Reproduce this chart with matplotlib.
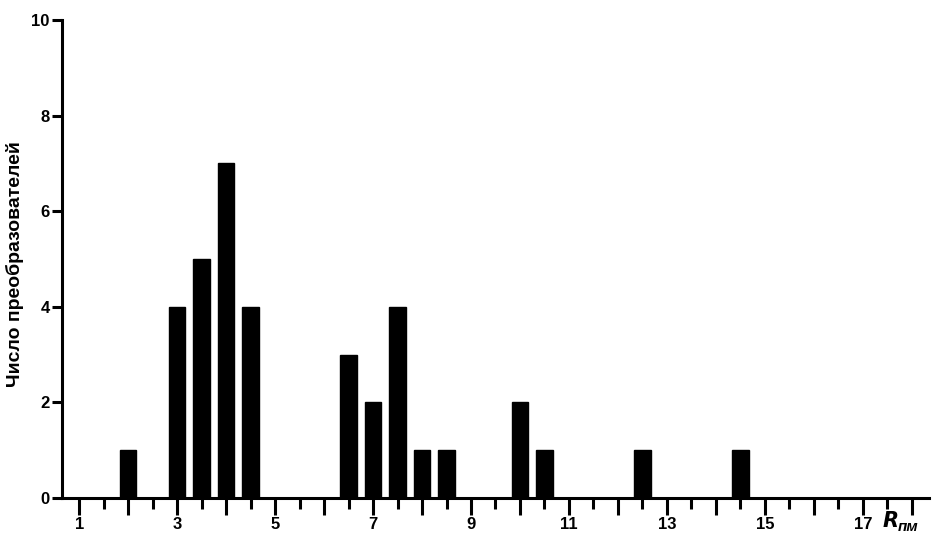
import numpy as np
import matplotlib
matplotlib.use("Agg")
import matplotlib.pyplot as plt
from matplotlib.ticker import MultipleLocator, FuncFormatter

# bar positions (R values) and counts
r_values = [2, 3, 3.5, 4, 4.5, 6.5, 7, 7.5, 8, 8.5, 10, 10.5, 12.5, 14.5]
counts = [1, 4, 5, 7, 4, 3, 2, 4, 1, 1, 2, 1, 1, 1]
y_ticks = [0, 2, 4, 6, 8, 10]

plt.rcParams['font.family'] = ['Liberation Sans', 'DejaVu Sans']
plt.rcParams['font.weight'] = 'bold'

fig = plt.figure(figsize=(9.35, 5.35), dpi=100)
ax = fig.add_axes([62/935, 37/535, (929-62)/935, (498-20)/535])

ax.bar(r_values, counts, width=0.34, color='black', edgecolor='black')

ax.set_xlim(0.65, 18.35)
ax.set_ylim(0, 10)
ax.set_yticks(y_ticks)

ax.xaxis.set_major_locator(MultipleLocator(1))
ax.xaxis.set_minor_locator(MultipleLocator(0.5))
ax.xaxis.set_major_formatter(FuncFormatter(lambda v, p: str(int(v)) if int(v) % 2 == 1 and v < 18 else ''))

for s in ['top', 'right']:
    ax.spines[s].set_visible(False)
for s in ['left', 'bottom']:
    ax.spines[s].set_linewidth(2.2)

ax.tick_params(axis='x', which='major', length=12, width=2.2, labelsize=12, pad=2)
ax.tick_params(axis='x', which='minor', length=8, width=2.2)
ax.tick_params(axis='y', which='major', length=7, width=2.2, labelsize=12, pad=2)
for lbl in ax.get_xticklabels() + ax.get_yticklabels():
    lbl.set_fontweight('bold')

fig.text(15/935, 1 - 264/535, 'Число преобразователей', rotation=90,
         ha='center', va='center', fontsize=14, fontweight='bold')
fig.text(882/935, 1 - 521/535, r'$\mathbf{\mathit{R}}$', ha='left', va='center',
         fontsize=15, fontweight='bold')
fig.text(898/935, 1 - 527/535, 'пм', ha='left', va='center',
         fontsize=11, fontweight='bold', style='italic')

fig.savefig('out.png', dpi=100)
